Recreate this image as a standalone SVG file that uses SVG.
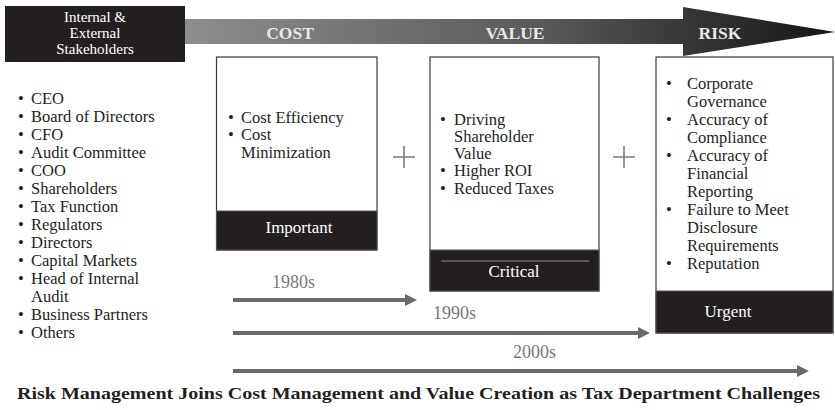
<svg xmlns="http://www.w3.org/2000/svg" width="835" height="410" viewBox="0 0 835 410">
<defs>
<linearGradient id="bar" x1="180" y1="0" x2="835" y2="0" gradientUnits="userSpaceOnUse">
<stop offset="0" stop-color="#8e8e8e"/>
<stop offset="0.55" stop-color="#5a5a5a"/>
<stop offset="0.78" stop-color="#363636"/>
<stop offset="1" stop-color="#151515"/>
</linearGradient>
<marker id="ah" viewBox="0 0 12 12" refX="0" refY="6" markerWidth="12" markerHeight="12" markerUnits="userSpaceOnUse" orient="auto">
<path d="M0,0 L12,6 L0,12 Z" fill="#6a6a6a"/>
</marker>
<style>
text{font-family:"Liberation Serif","Times New Roman",serif;}
.hd{font-size:15px;fill:#ffffff;text-anchor:middle;}
.ph{font-size:17.5px;font-weight:bold;fill:#e8e8e8;text-anchor:middle;}
.li{font-size:16.5px;fill:#231f20;}
.bl{font-size:16.5px;fill:#231f20;text-anchor:middle;}
.tag{font-size:17px;fill:#ffffff;text-anchor:middle;}
.yr{font-size:18px;fill:#777777;}
.box{fill:#ffffff;stroke:#3a3a3a;stroke-width:1.2;}
.band{fill:#231f20;stroke:#555;stroke-width:1;}
.tl{stroke:#6a6a6a;stroke-width:4;fill:none;}
.plus{stroke:#7a7a7a;stroke-width:1.6;fill:none;}
.title{font-size:16.5px;font-weight:bold;fill:#231f20;}
</style>
</defs>

<g id="phase-arrow">
<path d="M180,19 L683,19 L683,7 L835,32 L683,56 L683,44 L180,44 Z" fill="url(#bar)"/>
<text class="ph" x="290" y="39">COST</text>
<text class="ph" x="515" y="39">VALUE</text>
<text class="ph" x="720" y="39">RISK</text>
</g>

<g id="stakeholders-header">
<rect x="5" y="6" width="180" height="56" fill="#231f20"/>
<text class="hd" x="95" y="22">Internal &amp;</text>
<text class="hd" x="95" y="38">External</text>
<text class="hd" x="95" y="54">Stakeholders</text>
</g>

<g id="stakeholders-list">
<text class="bl" x="21" y="104">•</text><text class="li" x="31" y="104">CEO</text>
<text class="bl" x="21" y="122">•</text><text class="li" x="31" y="122">Board of Directors</text>
<text class="bl" x="21" y="140">•</text><text class="li" x="31" y="140">CFO</text>
<text class="bl" x="21" y="158">•</text><text class="li" x="31" y="158">Audit Committee</text>
<text class="bl" x="21" y="176">•</text><text class="li" x="31" y="176">COO</text>
<text class="bl" x="21" y="194">•</text><text class="li" x="31" y="194">Shareholders</text>
<text class="bl" x="21" y="212">•</text><text class="li" x="31" y="212">Tax Function</text>
<text class="bl" x="21" y="230">•</text><text class="li" x="31" y="230">Regulators</text>
<text class="bl" x="21" y="248">•</text><text class="li" x="31" y="248">Directors</text>
<text class="bl" x="21" y="266">•</text><text class="li" x="31" y="266">Capital Markets</text>
<text class="bl" x="21" y="284">•</text><text class="li" x="31" y="284">Head of Internal</text>
<text class="li" x="31" y="302">Audit</text>
<text class="bl" x="21" y="320">•</text><text class="li" x="31" y="320">Business Partners</text>
<text class="bl" x="21" y="338">•</text><text class="li" x="31" y="338">Others</text>
</g>

<g id="cost-box">
<rect class="box" x="216.5" y="57" width="160.5" height="193"/>
<rect class="band" x="216.5" y="211" width="160.5" height="39"/>
<text class="bl" x="231" y="122.5">•</text><text class="li" x="241" y="122.5">Cost Efficiency</text>
<text class="bl" x="231" y="140">•</text><text class="li" x="241" y="140">Cost</text>
<text class="li" x="241" y="157.5">Minimization</text>
<text class="tag" x="299" y="233">Important</text>
</g>

<g id="value-box">
<rect class="box" x="430" y="57" width="169" height="234"/>
<rect class="band" x="430" y="250" width="169" height="41"/>
<line x1="441" y1="261" x2="589" y2="261" stroke="#8a8a8a" stroke-width="1"/>
<text class="bl" x="443" y="124.5">•</text><text class="li" x="454" y="124.5">Driving</text>
<text class="li" x="454" y="141.8">Shareholder</text>
<text class="li" x="454" y="159.1">Value</text>
<text class="bl" x="443" y="176.4">•</text><text class="li" x="454" y="176.4">Higher ROI</text>
<text class="bl" x="443" y="193.7">•</text><text class="li" x="454" y="193.7">Reduced Taxes</text>
<text class="tag" x="514" y="277">Critical</text>
</g>

<g id="risk-box">
<rect class="box" x="656" y="57" width="177" height="276"/>
<rect class="band" x="656" y="291" width="177" height="42"/>
<text class="bl" x="669" y="89">•</text><text class="li" x="687" y="89">Corporate</text>
<text class="li" x="687" y="107">Governance</text>
<text class="bl" x="669" y="125">•</text><text class="li" x="687" y="125">Accuracy of</text>
<text class="li" x="687" y="143">Compliance</text>
<text class="bl" x="669" y="161">•</text><text class="li" x="687" y="161">Accuracy of</text>
<text class="li" x="687" y="179">Financial</text>
<text class="li" x="687" y="197">Reporting</text>
<text class="bl" x="669" y="215">•</text><text class="li" x="687" y="215">Failure to Meet</text>
<text class="li" x="687" y="233">Disclosure</text>
<text class="li" x="687" y="251">Requirements</text>
<text class="bl" x="669" y="269">•</text><text class="li" x="687" y="269">Reputation</text>
<text class="tag" x="728" y="317">Urgent</text>
</g>

<g id="plus-signs">
<path class="plus" d="M393,157 H415 M404,146 V168"/>
<path class="plus" d="M613,157 H635 M624,146 V168"/>
</g>

<g id="connectors">
<line class="tl" x1="233" y1="300" x2="405" y2="300" marker-end="url(#ah)"/>
<line class="tl" x1="233" y1="333" x2="638" y2="333" marker-end="url(#ah)"/>
<line class="tl" x1="233" y1="371" x2="797" y2="371" marker-end="url(#ah)"/>
</g>

<g id="timeline-labels">
<text class="yr" x="272" y="288">1980s</text>
<text class="yr" x="433" y="319">1990s</text>
<text class="yr" x="513" y="358">2000s</text>
</g>

<g id="caption">
<text class="title" x="17" y="399" textLength="803" lengthAdjust="spacingAndGlyphs">Risk Management Joins Cost Management and Value Creation as Tax Department Challenges</text>
</g>
</svg>
